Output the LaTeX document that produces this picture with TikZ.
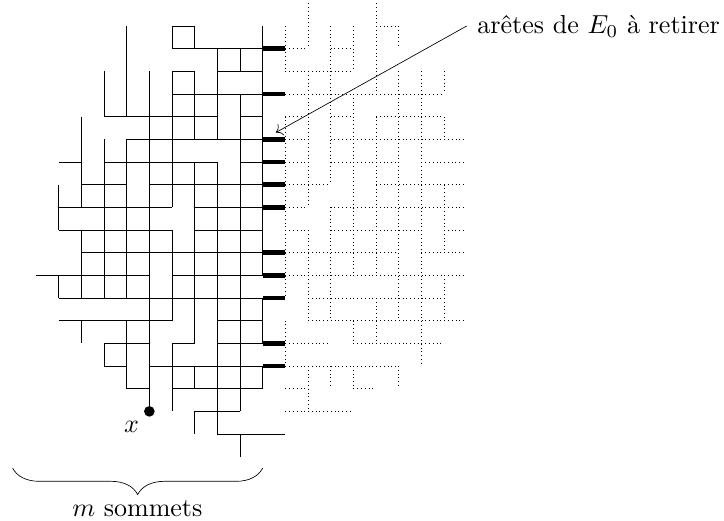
\documentclass[tikz,border=0pt]{standalone}
\usetikzlibrary{decorations.pathreplacing,arrows.meta}
\tikzset{
  edgeS/.style={line width=0.5pt,black},
  edgeD/.style={line width=0.5pt,black,dash pattern=on 0.5pt off 2.35pt},
  edgeT/.style={line width=3.5pt,black},
  lbl/.style={inner sep=0pt,scale=1.96}
}
\begin{document}
\begin{tikzpicture}[x=0.6cm,y=-0.6cm]
\useasboundingbox (-1.588,-0.146) rectangle (30.349,22.836);
% solid horizontal: row/from/to
\foreach \r/\a/\b in {1/6/7,2/6/10,3/6/7,3/8/10,4/6/10,5/3/8,5/9/10,6/4/10,7/1/2,7/3/8,7/9/10,
  8/2/4,8/5/10,9/1/6,9/7/10,10/1/6,10/7/10,11/2/10,12/0/5,12/6/10,13/1/10,14/1/6,14/8/10,
  15/3/5,15/6/7,15/8/10,16/3/4,16/5/10,17/4/5,17/6/10,18/7/9,19/8/11}
  \draw[edgeS] (\a,\r) -- (\b,\r);
% solid vertical: column/from/to
\foreach \c/\a/\b in {1/8/10,1/12/13,2/5/9,2/10/13,2/14/15,3/3/5,3/6/13,3/15/16,4/1/5,4/6/13,4/14/17,
  5/3/18,6/1/2,6/3/9,6/10/14,6/15/18,7/1/2,7/3/6,7/7/15,7/16/17,7/18/19,8/2/6,8/7/19,
  9/2/3,9/4/18,9/19/20,10/1/12,10/13/15,10/16/17}
  \draw[edgeS] (\c,\a) -- (\c,\b);
% dotted horizontal
\foreach \r/\a/\b in {1/15/16,2/11/12,2/13/14,3/11/14,4/11/18,5/11/12,5/13/14,5/15/18,
  6/11/12,6/13/19,7/11/12,7/13/16,7/17/19,8/11/13,8/15/19,9/11/12,9/13/19,10/11/12,10/13/17,10/18/19,
  11/11/16,11/17/19,12/11/19,13/12/18,14/12/19,15/11/13,15/14/18,16/11/16,17/11/12,17/14/15,18/11/14}
  \draw[edgeD] (\a,\r) -- (\b,\r);
% dotted vertical
\foreach \c/\a/\b in {11/1/3,11/5/13,11/14/16,12/0/2,12/3/9,12/10/14,12/16/18,13/1/8,13/9/14,13/16/17,
  14/1/3,14/4/12,14/14/15,14/16/17,15/0/4,15/5/12,15/13/15,16/1/2,16/3/14,16/16/17,17/3/16,
  18/3/4,18/5/6,18/8/11,18/12/14}
  \draw[edgeD] (\c,\a) -- (\c,\b);
% edges to remove
\foreach \r in {2,4,6,7,8,9,11,12,13,15,16}
  \draw[edgeT] (10,\r) -- (11,\r);
% base point
\node[circle,fill=black,inner sep=0pt,minimum size=8pt] (ptx) at (5,18) {};
\node[lbl,anchor=base] (lx) at (4.22,18.95) {$x$};
% brace
\coordinate (bR) at (10,20.5);
\coordinate (bL) at (-1.03,20.5);
\draw[edgeS,decorate,decoration={brace,amplitude=20pt}] (bR) -- (bL);
\node[lbl,anchor=base] (lm) at (4.47,22.65) {$m$ sommets};
% annotation
\node[lbl,anchor=base west] (lab) at (19.45,1.35) {ar\^etes de $E_0$ \`a retirer};
\coordinate (tip) at (10.58,5.7);
\coordinate (tail) at (19,1);
\draw[edgeS,-{To[scale=1.7]}] (tail) -- (tip);
\end{tikzpicture}
\end{document}
